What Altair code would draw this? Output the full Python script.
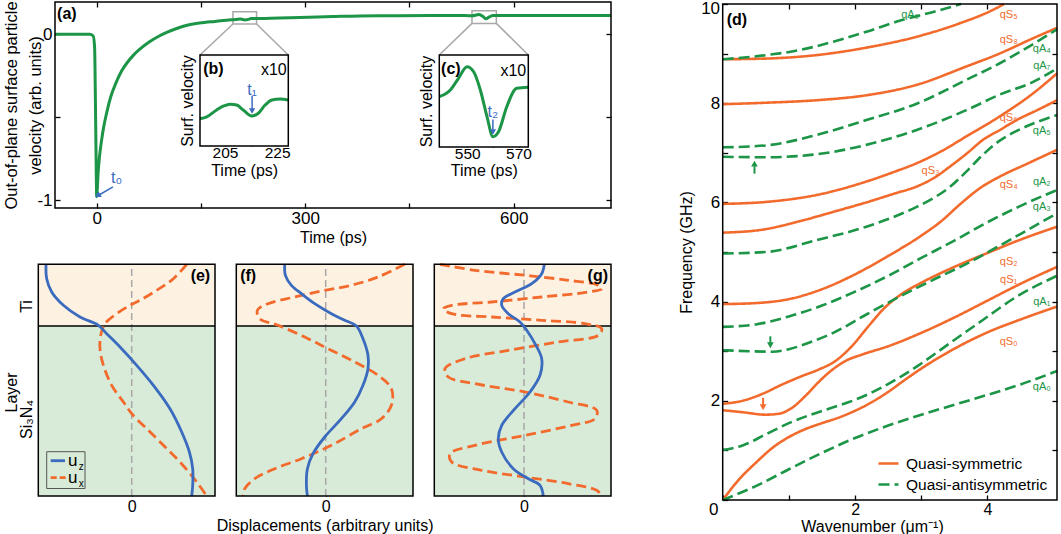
import altair as alt
import pandas as pd

W, H = 1061, 534
FONT = "Liberation Sans"
GREEN = "#1c9547"
ORANGE = "#f26b2d"
BLUE = "#3b6bbf"
GRAY = "#a8a8a8"
TI_FILL = "#fdf1e1"
SI_FILL = "#d8ead8"

# ---------------- data ----------------
# (a) out-of-plane surface velocity trace
a_time = [-60, -10, -5, -3, -2, -1, 0, 1, 2, 4, 7, 10, 14, 20, 28, 36, 44, 52, 62, 76,
          90, 100, 115, 130, 148, 170, 190, 200, 207, 213, 218, 222, 229, 250, 292, 340,
          378, 420, 480, 530, 540, 546, 550, 555, 560, 565, 570, 575, 600, 650, 700, 740]
a_vel = [0, 0, -0.01, -0.08, -0.35, -0.7, -0.98, -0.92, -0.84, -0.74, -0.64, -0.56, -0.48,
         -0.38, -0.29, -0.22, -0.17, -0.13, -0.09, -0.045, -0.01, 0.01, 0.035, 0.055, 0.068,
         0.078, 0.086, 0.089, 0.092, 0.087, 0.09, 0.095, 0.095, 0.097, 0.101, 0.107, 0.111,
         0.112, 0.113, 0.113, 0.112, 0.116, 0.12, 0.11, 0.094, 0.105, 0.113, 0.113, 0.113,
         0.113, 0.113, 0.113]
# zoom windows in (a): t0, t1, v0, v1
b_zoom = [196, 230, 0.062, 0.136]
c_zoom = [540, 575, 0.066, 0.142]
# (b) inset (x10)
b_time = [195.4, 198, 201.8, 204.5, 206.9, 209.5, 212, 215.3, 217.8, 220.4, 223, 226.2, 229.3]
b_sig = [0.30, 0.32, 0.396, 0.44, 0.46, 0.45, 0.396, 0.33, 0.36, 0.45, 0.505, 0.516, 0.505]
# (c) inset (x10)
c_time = [539.1, 543.4, 546.6, 549.9, 552.5, 555.1, 557.7, 560, 562.2, 565.4, 569.3, 573.8]
c_sig = [0.547, 0.62, 0.747, 0.873, 0.818, 0.62, 0.33, 0.112, 0.166, 0.438, 0.638, 0.649]

# (e),(f),(g) mode shapes: (displacement, height above substrate bottom)
e_uz = [(-85.7, 231.7), (-85, 217.3), (-80, 204), (-68.3, 190.7), (-51.7, 179), (-33.3, 170.7),
        (-25, 162.3), (-11.7, 149), (5, 130.7), (21.7, 110.7), (38.3, 87.3), (50, 64),
        (57.7, 44), (61, 27.3), (61, 10.7), (60, 0)]
e_ux = [(55, 231.7), (41.7, 217.3), (25, 205.7), (8.3, 195.7), (-1.7, 190.7), (-15, 182.3),
        (-26.7, 172.3), (-31, 160.7), (-31.7, 147.3), (-28.3, 130.7), (-20, 110.7), (-8.3, 94),
        (0, 82.3), (15, 67.3), (31.7, 50.7), (48.3, 34), (65, 14), (75, 0)]
f_uz = [(-41, 231.7), (-40.3, 220.7), (-34.3, 210.7), (-24.3, 202.3), (-11, 192.3), (5.7, 182.3),
        (19, 175.7), (30.7, 170), (37.3, 157.3), (42.3, 140.7), (42.3, 127.3), (37.3, 110.7),
        (29, 94), (15.7, 77.3), (-1, 59), (-12.7, 42.3), (-18.3, 27.3), (-19.3, 10.7), (-18.3, 0)]
f_ux = [(79, 231.7), (52.3, 219), (25.7, 210.7), (-1, 205.7), (-31, 199), (-57.7, 192.3),
        (-68.3, 185.7), (-66, 177.3), (-47.7, 170.7), (-21, 159), (2.3, 147.3), (29, 134),
        (52.3, 120.7), (65.7, 107.3), (65.7, 90.7), (55.7, 77.3), (35.7, 67.3), (5.7, 50.7),
        (-24.3, 37.3), (-51, 27.3), (-71, 17.3), (-81, 7.3), (-82.7, 0)]
g_uz = [(20.3, 231.7), (17.7, 222.3), (7.7, 212.3), (-9, 204), (-20.7, 197.3), (-22.3, 190.7),
        (-15.7, 182.3), (-4, 174), (2.7, 165.7), (11, 152.3), (17.7, 137.3), (16, 120.7),
        (6, 104), (-9, 87.3), (-22.3, 70.7), (-25.7, 57.3), (-22.3, 44), (-10.7, 27.3),
        (4.3, 17.3), (16, 10.7), (19.3, 0)]
g_ux = [(-84, 231.7), (-49, 225.7), (1, 220.7), (44.3, 215.7), (74.3, 210.7), (77.7, 207.3),
        (64.3, 204), (17.7, 199), (-32.3, 194), (-72.3, 190.7), (-80.7, 187.3), (-72.3, 182.3),
        (-32.3, 179), (17.7, 175.7), (61, 172.3), (77.7, 167.3), (74.3, 160.7), (34.3, 154),
        (-15.7, 145.7), (-59, 137.3), (-79, 127.3), (-75.7, 119), (-49, 112.3), (1, 104),
        (44.3, 94), (72.7, 85.7), (71, 77.3), (47.7, 70.7), (1, 60.7), (-49, 50.7), (-74, 42.3),
        (-72.3, 34), (-42.3, 25.7), (1, 19), (44.3, 12.3), (72.7, 5.7), (77.7, 0)]
LAYER_TOP, LAYER_IFACE = 231.7, 170

# (d) dispersion curves: (wavenumber um^-1, frequency GHz)
qS = {
    "qS0": [(0, 0), (0.25, 0.42), (0.5, 0.75), (0.75, 1.05), (1.0, 1.27), (1.25, 1.43), (1.5, 1.55),
            (1.75, 1.66), (2.0, 1.8), (2.25, 1.97), (2.5, 2.18), (2.75, 2.42), (3.0, 2.65),
            (3.5, 3.05), (4.0, 3.38), (4.5, 3.64), (5.05, 3.9)],
    "qS1": [(0, 1.81), (0.3, 1.77), (0.65, 1.72), (0.85, 1.74), (1.05, 1.86), (1.25, 2.1),
            (1.45, 2.38), (1.65, 2.62), (1.85, 2.8), (2.1, 2.93), (2.5, 3.1), (3.0, 3.37),
            (3.5, 3.68), (4.0, 4.02), (4.5, 4.36), (5.05, 4.7)],
    "qS2": [(0, 1.94), (0.3, 2.0), (0.6, 2.14), (0.9, 2.33), (1.2, 2.5), (1.45, 2.63), (1.7, 2.8),
            (1.95, 3.1), (2.2, 3.5), (2.45, 3.88), (2.7, 4.15), (3.0, 4.38), (3.5, 4.7),
            (4.0, 4.98), (4.5, 5.25), (5.05, 5.51)],
    "qS4": [(0, 3.95), (0.5, 3.97), (1.0, 4.05), (1.5, 4.25), (2.0, 4.55), (2.5, 4.92), (3.0, 5.33),
            (3.3, 5.62), (3.6, 5.98), (3.9, 6.3), (4.2, 6.53), (4.6, 6.78), (5.05, 7.06)],
    "qS6": [(0, 5.39), (0.6, 5.45), (1.16, 5.62), (1.7, 5.82), (2.17, 6.0), (2.6, 6.18),
            (2.93, 6.32), (3.2, 6.5), (3.43, 6.72), (3.7, 7.0), (3.93, 7.26), (4.2, 7.47),
            (4.44, 7.66), (4.75, 7.86), (5.05, 8.06)],
    "qS3": [(0, 5.97), (0.66, 6.01), (1.42, 6.15), (2.17, 6.42), (2.6, 6.62), (2.93, 6.79),
            (3.3, 7.03), (3.68, 7.33), (4.18, 7.73), (4.69, 8.2), (5.05, 8.6)],
    "qS8": [(0, 7.98), (0.66, 8.01), (1.42, 8.06), (2.17, 8.16), (2.93, 8.37), (3.68, 8.74),
            (4.18, 9.0), (4.69, 9.31), (5.05, 9.52)],
    "qS5": [(0, 8.886), (0.66, 8.9), (1.42, 8.97), (2.17, 9.12), (2.93, 9.34), (3.58, 9.61),
            (4.08, 9.88), (4.25, 10.0)],
}
qA = {
    "qA0": [(0, 0), (0.5, 0.28), (1.0, 0.62), (1.5, 0.95), (2.0, 1.25), (2.5, 1.5), (3.0, 1.72),
            (3.5, 1.92), (4.0, 2.12), (4.5, 2.33), (5.05, 2.6)],
    "qA1": [(0, 1.01), (0.3, 1.1), (0.66, 1.33), (1.0, 1.55), (1.33, 1.72), (1.67, 1.87),
            (2.0, 2.02), (2.42, 2.28), (2.93, 2.69), (3.43, 3.16), (3.93, 3.63), (4.44, 4.1),
            (5.05, 4.52)],
    "qA3": [(0, 3.02), (0.4, 3.0), (0.75, 2.99), (1.0, 3.04), (1.3, 3.17), (1.67, 3.37),
            (2.17, 3.74), (2.67, 4.1), (3.18, 4.44), (3.68, 4.76), (4.2, 5.14), (4.6, 5.44),
            (5.05, 5.78)],
    "qA2": [(0, 3.49), (0.5, 3.54), (1.0, 3.7), (1.5, 3.92), (2.0, 4.2), (2.5, 4.52), (3.0, 4.88),
            (3.5, 5.23), (4.0, 5.6), (4.5, 5.93), (5.05, 6.25)],
    "qA5": [(0, 4.97), (0.66, 5.0), (1.42, 5.24), (2.17, 5.51), (2.93, 5.91), (3.2, 6.1),
            (3.43, 6.31), (3.68, 6.62), (3.93, 6.96), (4.18, 7.24), (4.44, 7.44), (4.69, 7.59),
            (5.05, 7.76)],
    "qA7": [(0, 6.92), (0.66, 6.91), (1.42, 6.97), (2.17, 7.16), (2.93, 7.46), (3.68, 7.86),
            (4.18, 8.17), (4.69, 8.43), (5.05, 8.70)],
    "qA4": [(0, 7.11), (0.66, 7.15), (1.42, 7.36), (2.17, 7.66), (2.93, 7.99), (3.68, 8.47),
            (4.18, 8.8), (4.6, 9.12), (5.05, 9.49)],
    "qA9": [(0, 8.886), (0.66, 8.97), (1.16, 9.07), (1.67, 9.24), (2.17, 9.44), (2.67, 9.66),
            (3.18, 9.84), (3.6, 10.0)],
}
labels_S = [("qS\u2085", 4.32, 9.78), ("qS\u2088", 4.32, 9.27), ("qS\u2086", 4.32, 7.70),
            ("qS\u2083", 3.14, 6.64), ("qS\u2084", 4.32, 6.35), ("qS\u2082", 4.32, 4.80),
            ("qS\u2081", 4.32, 4.44), ("qS\u2080", 4.32, 3.19)]
labels_A = [("qA\u2089", 2.83, 9.78), ("qA\u2084", 4.82, 9.09), ("qA\u2087", 4.82, 8.75),
            ("qA\u2085", 4.82, 7.44), ("qA\u2082", 4.82, 6.41), ("qA\u2083", 4.82, 5.90),
            ("qA\u2081", 4.82, 3.99), ("qA\u2080", 4.82, 2.28)]

# ---------------- layout (pixel ranges of each plot area) ----------------
A_XD, A_XR = [-60, 740], [55, 611]
A_YD, A_YR = [-1.048, 0.195], [208, 2]
B_XD, B_XR = [195.4, 229.3], [200, 288.3]
B_YD, B_YR = [0, 1], [146, 55]
C_XD, C_XR = [539.1, 573.8], [439.3, 528.3]
C_YD, C_YR = [0, 1], [147, 55]
L_YD, L_YR = [0, 231.7], [496, 264.3]
E_ZERO, E_XD = 131.7, [-93.4, 83.3]
F_ZERO, F_XD = 325.7, [-89.4, 87.3]
G_ZERO, G_XD = 524.0, [-89.7, 87.0]
D_XD, D_XR = [0, 5.05], [722.7, 1057]
D_YD, D_YR = [0, 10], [500, 4]
TK = 5


def S(dom, rng):
    return alt.Scale(domain=list(dom), range=list(rng), nice=False, zero=False)


def XY(xs, ys, xa=None, ya=None, xf="x", yf="y"):
    return dict(x=alt.X(f"{xf}:Q", scale=xs, axis=xa), y=alt.Y(f"{yf}:Q", scale=ys, axis=ya))


def frame(xs, ys, xd, yd, stroke="black", sw=1.5, fill=None):
    df = pd.DataFrame({"x": [xd[0]], "x1": [xd[1]], "y": [yd[0]], "y1": [yd[1]]})
    kw = dict(stroke=stroke, strokeWidth=sw)
    if fill:
        kw["fill"] = fill
    else:
        kw["fillOpacity"] = 0
    return alt.Chart(df).mark_rect(**kw).encode(x2="x1", y2="y1", **XY(xs, ys))


def axes(xs, ys, xd, yd, xa=None, ya=None):
    """An invisible chart that only carries the axes of a panel."""
    df = pd.DataFrame({"x": [xd[0]], "y": [yd[0]]})
    return alt.Chart(df).mark_point(opacity=0).encode(**XY(xs, ys, xa, ya))


def txt(xs, ys, x, y, s, size=16, color="black", align="left", baseline="middle", weight="normal"):
    df = pd.DataFrame({"x": [x], "y": [y], "t": [s]})
    return alt.Chart(df).mark_text(font=FONT, fontSize=size, color=color, align=align,
                                   baseline=baseline, fontWeight=weight).encode(
        text="t:N", **XY(xs, ys))


def arrow(xs, ys, x0, y0, x1, y1, hx, hy, angle, color, size=40, sw=1.5):
    df = pd.DataFrame({"x": [x0], "y": [y0], "x1": [x1], "y1": [y1]})
    shaft = alt.Chart(df).mark_rule(color=color, strokeWidth=sw).encode(
        x2="x1", y2="y1", **XY(xs, ys))
    head = alt.Chart(pd.DataFrame({"x": [hx], "y": [hy]})).mark_point(
        shape="triangle-up", filled=True, color=color, size=size, angle=angle, opacity=1,
        strokeWidth=0).encode(**XY(xs, ys))
    return [shaft, head]


def mirror(xs, ys, xd, yd, xvals, yvals, top_px, right_px, tick=TK):
    xa = alt.Axis(orient="top", values=xvals, labels=False, tickSize=tick,
                  offset=-(top_px + tick), title=None) if xvals else None
    ya = alt.Axis(orient="right", values=yvals, labels=False, tickSize=tick,
                  offset=right_px - tick - W, title=None) if yvals else None
    return axes(xs, ys, xd, yd, xa, ya)


# ---------------- panel (a) ----------------
xa_s, ya_s = S(A_XD, A_XR), S(A_YD, A_YR)


def a_inv_x(px):
    return A_XD[0] + (px - A_XR[0]) / (A_XR[1] - A_XR[0]) * (A_XD[1] - A_XD[0])


def a_inv_y(py):
    return A_YD[0] + (py - A_YR[0]) / (A_YR[1] - A_YR[0]) * (A_YD[1] - A_YD[0])


a_df = pd.DataFrame({"x": a_time, "y": a_vel})
zoom_df = pd.DataFrame({"x": [b_zoom[0], c_zoom[0]], "x1": [b_zoom[1], c_zoom[1]],
                        "y": [b_zoom[2], c_zoom[2]], "y1": [b_zoom[3], c_zoom[3]]})
conn_df = pd.DataFrame({
    "x": [b_zoom[0], b_zoom[1], c_zoom[0], c_zoom[1]],
    "y": [b_zoom[2], b_zoom[2], c_zoom[2], c_zoom[2]],
    "x1": [a_inv_x(B_XR[0]), a_inv_x(B_XR[1]), a_inv_x(C_XR[0]), a_inv_x(C_XR[1])],
    "y1": [a_inv_y(B_YR[1])] * 2 + [a_inv_y(C_YR[1])] * 2,
})

ax_a_b = alt.Axis(orient="bottom", values=[0, 150, 300, 450, 600], tickSize=TK,
                  offset=A_YR[0] - TK - H, labelPadding=2,
                  labelExpr="datum.value % 300 == 0 ? datum.label : ''",
                  title="Time (ps)", titleX=(A_XR[0] + A_XR[1]) / 2, titleY=39,
                  titleBaseline="alphabetic")
ax_a_l = alt.Axis(orient="left", values=[-1, -0.5, 0], tickSize=TK, offset=-(A_XR[0] + TK),
                  labelPadding=3,
                  labelExpr="datum.value == -1 ? '-1' : (datum.value == 0 ? '0' : '')",
                  title=["Out-of-plane surface particle", "velocity (arb. units)"],
                  titleX=11.2 - (A_XR[0] + TK), titleY=105, titleAngle=270,
                  titleBaseline="middle", titleAlign="center", titleLineHeight=24.5,
                  titleFontSize=16.5)

panel_a = alt.layer(
    alt.Chart(zoom_df).mark_rect(stroke=GRAY, strokeWidth=1.5, fillOpacity=0).encode(
        x2="x1", y2="y1", **XY(xa_s, ya_s)),
    alt.Chart(conn_df).mark_rule(color=GRAY, strokeWidth=1.5).encode(
        x2="x1", y2="y1", **XY(xa_s, ya_s)),
    alt.Chart(a_df).mark_line(color=GREEN, strokeWidth=3, interpolate="monotone").encode(
        **XY(xa_s, ya_s)),
    *arrow(xa_s, ya_s, 23.4, -0.921, 4.0, -0.968, 1.3, -0.973, 241, BLUE, size=45),
    txt(xa_s, ya_s, 20.6, -0.867, "t\u2080", color=BLUE),
    txt(xa_s, ya_s, -57, 0.125, "(a)", weight="bold"),
    frame(xa_s, ya_s, A_XD, A_YD),
)
axes_a = axes(xa_s, ya_s, A_XD, A_YD, ax_a_b, ax_a_l)
mirror_a = mirror(xa_s, ya_s, A_XD, A_YD, [0, 150, 300, 450, 600], [-1, -0.5, 0],
                  A_YR[1], A_XR[1])


# ---------------- insets (b), (c) ----------------
def inset(xd, xr, yd, yr, t, sig, ticks, labels, tag, tlabel, tx, ty, ay0, ay1, hy, tagx, x10x):
    xs, ys = S(xd, xr), S(yd, yr)
    ax_b = alt.Axis(orient="bottom", values=ticks, tickSize=4, offset=yr[0] - 4 - H,
                    labelPadding=-1, labelFontSize=15.5,
                    labelExpr="indexof([" + ",".join(str(v) for v in labels) +
                              "], datum.value) >= 0 ? datum.label : ''",
                    title="Time (ps)", titleX=(xr[0] + xr[1]) / 2, titleY=175 - (yr[0] - 4),
                    titleBaseline="alphabetic")
    ax_l = alt.Axis(orient="left", labels=False, ticks=False, offset=-xr[0],
                    title="Surf. velocity", titleX=-13, titleY=(yr[0] + yr[1]) / 2,
                    titleAngle=270, titleBaseline="middle", titleAlign="center")
    df = pd.DataFrame({"x": t, "y": sig})
    layer = alt.layer(
        frame(xs, ys, xd, yd, fill="white", sw=0.01),
        alt.Chart(df).mark_line(color=GREEN, strokeWidth=3, interpolate="monotone").encode(
            **XY(xs, ys)),
        *arrow(xs, ys, tx, ay0, tx, ay1, tx, hy, 180, BLUE, size=40),
        txt(xs, ys, tx, ty, tlabel, color=BLUE, align="center"),
        txt(xs, ys, tagx, 0.85, tag, weight="bold"),
        txt(xs, ys, x10x, 0.83, "x10", align="right"),
        frame(xs, ys, xd, yd),
    )
    ax = axes(xs, ys, xd, yd, ax_b, ax_l)
    mir = mirror(xs, ys, xd, yd, ticks, None, yr[1], xr[1], tick=4)
    return [layer, ax, mir]


inset_b = inset(B_XD, B_XR, B_YD, B_YR, b_time, b_sig, [205, 215, 225], [205, 225], "(b)",
                "t\u2081", 215.4, 0.62, 0.55, 0.41, 0.385, 196.6, 228.7)
inset_c = inset(C_XD, C_XR, C_YD, C_YR, c_time, c_sig, [550, 560, 570], [550, 570], "(c)",
                "t\u2082", 560.0, 0.385, 0.30, 0.19, 0.163, 539.8, 573.0)


# ---------------- panels (e), (f), (g) ----------------
def mode_panel(zero, xd, uz, ux, tag, tag_x, tag_align, y_axis=False, x_title=None, legend=False):
    xr = [zero + xd[0], zero + xd[1]]
    xs, ys = S(xd, xr), S(L_YD, L_YR)
    if x_title:
        extra = dict(title=x_title, titleX=(xr[0] + xr[1]) / 2, titleY=530 - (L_YR[0] - 6),
                     titleBaseline="alphabetic")
    else:
        extra = dict(title=None)
    ax_b = alt.Axis(orient="bottom", values=[0], tickSize=6, offset=L_YR[0] - 6 - H,
                    labelPadding=2, labelFontSize=16, **extra)
    ax_l = None
    if y_axis:
        ax_l = alt.Axis(orient="left", values=[190, 77], ticks=False, tickSize=0,
                        offset=-xr[0], labelPadding=4, labelAngle=270, labelAlign="center",
                        labelBaseline="bottom", labelFontSize=16,
                        labelExpr="datum.value > 150 ? 'Ti' : 'Si\u2083N\u2084'",
                        title="Layer", titleX=11 - xr[0], titleY=392, titleAngle=270,
                        titleBaseline="middle", titleAlign="center")
    uz_df = pd.DataFrame({"x": [p[0] for p in uz], "y": [p[1] for p in uz], "i": range(len(uz))})
    ux_df = pd.DataFrame({"x": [p[0] for p in ux], "y": [p[1] for p in ux], "i": range(len(ux))})
    zero_df = pd.DataFrame({"x": [0], "y": [L_YD[0]], "y1": [L_YD[1]]})
    iface_df = pd.DataFrame({"x": [xd[0]], "x1": [xd[1]], "y": [LAYER_IFACE]})
    layers = [
        frame(xs, ys, xd, [0, LAYER_IFACE], fill=SI_FILL, sw=0.01),
        frame(xs, ys, xd, [LAYER_IFACE, LAYER_TOP], fill=TI_FILL, sw=0.01),
        alt.Chart(zero_df).mark_rule(color=GRAY, strokeWidth=1.5, strokeDash=[7, 4]).encode(
            y2="y1", **XY(xs, ys)),
        alt.Chart(iface_df).mark_rule(color="black", strokeWidth=1.5).encode(
            x2="x1", **XY(xs, ys)),
        alt.Chart(ux_df).mark_line(color=ORANGE, strokeWidth=2.8, strokeDash=[10, 5],
                                   interpolate="catmull-rom").encode(
            order="i:Q", **XY(xs, ys)),
        alt.Chart(uz_df).mark_line(color=BLUE, strokeWidth=2.8,
                                   interpolate="catmull-rom").encode(
            order="i:Q", **XY(xs, ys)),
        txt(xs, ys, tag_x, 220, tag, weight="bold", align=tag_align),
    ]
    if legend:
        lg_line = pd.DataFrame({"x": [-81.0], "x1": [-66.7], "y": [35.3]})
        lg_dash = pd.DataFrame({"x": [-81.0], "x1": [-66.0], "y": [18.3]})
        layers += [
            frame(xs, ys, [-85.0, -46.7], [7.5, 44.3], stroke="#555555", sw=1),
            alt.Chart(lg_line).mark_rule(color=BLUE, strokeWidth=2.8).encode(
                x2="x1", **XY(xs, ys)),
            alt.Chart(lg_dash).mark_rule(color=ORANGE, strokeWidth=2.8,
                                         strokeDash=[6, 3]).encode(x2="x1", **XY(xs, ys)),
            txt(xs, ys, -63.8, 30.3, "u", size=17, baseline="alphabetic"),
            txt(xs, ys, -52.9, 26.5, "z", size=10, baseline="alphabetic"),
            txt(xs, ys, -63.8, 13.0, "u", size=17, baseline="alphabetic"),
            txt(xs, ys, -52.9, 9.5, "x", size=10, baseline="alphabetic"),
        ]
    layers.append(frame(xs, ys, xd, L_YD))
    ax = axes(xs, ys, xd, L_YD, ax_b, ax_l)
    mir = mirror(xs, ys, xd, L_YD, [0], None, L_YR[1], xr[1], tick=6)
    return [alt.layer(*layers), ax, mir]


panel_e = mode_panel(E_ZERO, E_XD, e_uz, e_ux, "(e)", 78.5, "right", y_axis=True, legend=True)
panel_f = mode_panel(F_ZERO, F_XD, f_uz, f_ux, "(f)", -85.5, "left",
                     x_title="Displacements (arbitrary units)")
panel_g = mode_panel(G_ZERO, G_XD, g_uz, g_ux, "(g)", 84.0, "right")

# ---------------- panel (d) ----------------
xd_s, yd_s = S(D_XD, D_XR), S(D_YD, D_YR)
rows = []
for fam, curves in (("Quasi-symmetric", qS), ("Quasi-antisymmetric", qA)):
    for name, pts in curves.items():
        for i, (k, f) in enumerate(pts):
            rows.append({"curve": name, "fam": fam, "x": k, "y": f, "i": i})
d_df = pd.DataFrame(rows)
FAMS = ["Quasi-symmetric", "Quasi-antisymmetric"]
LEG = alt.Legend(orient="none", legendX=877, legendY=452, title=None, symbolType="stroke",
                 symbolSize=400, symbolStrokeWidth=2.6, labelFontSize=15.5, labelFont=FONT,
                 labelOffset=6, padding=0, rowPadding=1, labelColor="black")

ax_d_b = alt.Axis(orient="bottom", values=[0, 1, 2, 3, 4], tickSize=TK, offset=D_YR[0] - TK - H,
                  labelPadding=1, labelFontSize=16,
                  labelExpr="datum.value == 2 || datum.value == 4 ? datum.label : ''",
                  title="Wavenumber (\u03bcm\u207b\u00b9)", titleX=872,
                  titleY=531 - (D_YR[0] - TK), titleBaseline="alphabetic")
ax_d_l = alt.Axis(orient="left", values=list(range(0, 11)), tickSize=TK,
                  offset=-(D_XR[0] + TK), labelPadding=3,
                  labelExpr="datum.value % 2 == 0 && datum.value > 0 && datum.value < 10"
                            " ? datum.label : ''",
                  title="Frequency (GHz)", titleX=686 - (D_XR[0] + TK), titleY=252,
                  titleAngle=270, titleBaseline="middle", titleAlign="center")

lab_S = pd.DataFrame({"t": [l[0] for l in labels_S], "x": [l[1] for l in labels_S],
                      "y": [l[2] for l in labels_S]})
lab_A = pd.DataFrame({"t": [l[0] for l in labels_A], "x": [l[1] for l in labels_A],
                      "y": [l[2] for l in labels_A]})

panel_d = alt.layer(
    alt.Chart(d_df).mark_line(strokeWidth=2.6, interpolate="monotone").encode(
        color=alt.Color("fam:N", scale=alt.Scale(domain=FAMS, range=[ORANGE, GREEN]), legend=LEG),
        strokeDash=alt.StrokeDash("fam:N", scale=alt.Scale(domain=FAMS, range=[[1, 0], [11, 5]]),
                                  legend=LEG),
        detail="curve:N", order="i:Q", **XY(xd_s, yd_s)),
    alt.Chart(lab_S).mark_text(font=FONT, fontSize=11, color=ORANGE).encode(
        text="t:N", **XY(xd_s, yd_s)),
    alt.Chart(lab_A).mark_text(font=FONT, fontSize=11, color=GREEN).encode(
        text="t:N", **XY(xd_s, yd_s)),
    *arrow(xd_s, yd_s, 0.61, 2.06, 0.61, 1.92, 0.61, 1.87, 180, ORANGE, size=45, sw=2),
    *arrow(xd_s, yd_s, 0.72, 3.30, 0.72, 3.16, 0.72, 3.12, 180, GREEN, size=45, sw=2),
    *arrow(xd_s, yd_s, 0.48, 6.58, 0.48, 6.73, 0.48, 6.78, 0, GREEN, size=45, sw=2),
    txt(xd_s, yd_s, 0.06, 9.67, "(d)", weight="bold"),
    # corner tick labels of the frequency axis (0 sits below the corner, 10 at the top edge)
    txt(xd_s, yd_s, -0.063, -0.04, "0", size=17, align="right", baseline="top"),
    txt(xd_s, yd_s, -0.04, 10.06, "10", size=17, align="right", baseline="top"),
    frame(xd_s, yd_s, D_XD, D_YD),
)
axes_d = axes(xd_s, yd_s, D_XD, D_YD, ax_d_b, ax_d_l)
mirror_d = mirror(xd_s, yd_s, D_XD, D_YD, [1, 2, 3, 4], list(range(1, 10)), D_YR[1], D_XR[1])

chart = alt.layer(
    panel_a, axes_a, mirror_a, *inset_b, *inset_c, *panel_e, *panel_f, *panel_g,
    panel_d, axes_d, mirror_d
).resolve_scale(
    x="independent", y="independent", color="independent", strokeDash="independent"
).properties(
    width=W, height=H, padding=0, autosize=alt.AutoSizeParams(type="none")
).configure_axis(
    labelFont=FONT, titleFont=FONT, labelFontSize=17, titleFontSize=16,
    titleFontWeight="normal", labelColor="black", titleColor="black", tickColor="black",
    tickWidth=1.3, grid=False, domain=False, zindex=1, labelFlush=False, labelOverlap=False
).configure_view(stroke=None).configure_text(font=FONT)

chart.save("out.html", embed_options={"renderer": "svg", "actions": False})
